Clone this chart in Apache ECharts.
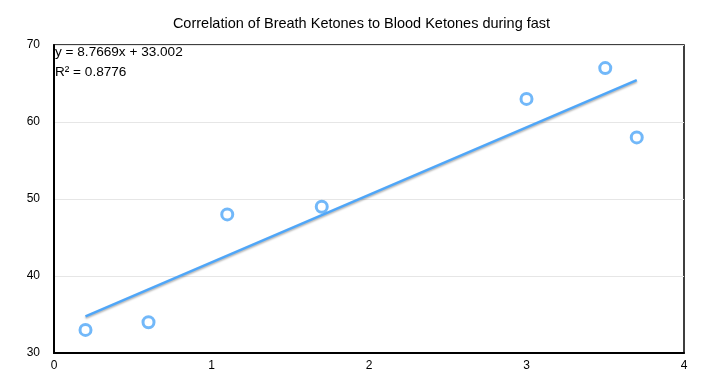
<!DOCTYPE html>
<html>
<head>
<meta charset="utf-8">
<script src="https://cdn.jsdelivr.net/npm/echarts@6/dist/echarts.min.js"></script>
<style>html,body{margin:0;padding:0;background:#fff}#c{width:723px;height:388px}</style>
</head>
<body>
<div id="c"></div>
<script>
var breathX = [0.2, 0.6, 1.1, 1.7, 3.0, 3.5, 3.7];
var bloodY = [33, 34, 48, 49, 63, 67, 58];
var trendX = [0.2, 3.7];
var trendY = [34.76, 65.44];
var xTicks = [0, 1, 2, 3, 4];
var yTicks = [30, 40, 50, 60, 70];
var titleText = 'Correlation of Breath Ketones to Blood Ketones during fast';
var eqText = 'y = 8.7669x + 33.002';
var r2Text = 'R² = 0.8776';

var blue = '#4fa6f8';
var font = 'Liberation Sans, Arial, Helvetica, sans-serif';
var chart = echarts.init(document.getElementById('c'));
chart.setOption({
  animation: false,
  backgroundColor: '#fff',
  title: {
    text: titleText, left: 'center', top: 11,
    textStyle: {fontFamily: font, fontSize: 14.5, fontWeight: 'normal', color: '#000'}
  },
  grid: {left: 54, top: 45, right: 39, bottom: 35, show: true, borderColor: '#000', borderWidth: 1.5, backgroundColor: 'transparent'},
  xAxis: {
    type: 'value', min: xTicks[0], max: xTicks[xTicks.length - 1], interval: 1,
    axisLine: {show: true, lineStyle: {color: '#000', width: 2}},
    axisTick: {show: false},
    splitLine: {show: false},
    axisLabel: {color: '#000', fontFamily: font, fontSize: 12, margin: 7}
  },
  yAxis: {
    type: 'value', min: yTicks[0], max: yTicks[yTicks.length - 1], interval: 10,
    axisLine: {show: true, lineStyle: {color: '#000', width: 2}},
    axisTick: {show: false},
    splitLine: {show: true, lineStyle: {color: '#e6e6e6', width: 1}},
    axisLabel: {color: '#000', fontFamily: font, fontSize: 12, margin: 14, verticalAlign: 'middle', padding: [0, 0, 2, 0]}
  },
  graphic: [
    {type: 'text', left: 55, top: 45, style: {text: eqText, fill: '#000', font: '13.6px ' + font}},
    {type: 'text', left: 55, top: 65, style: {text: r2Text, fill: '#000', font: '13.6px ' + font}}
  ],
  series: [
    {
      type: 'line',
      data: trendX.map(function (x, i) { return [x, trendY[i]]; }),
      symbol: 'none',
      lineStyle: {color: blue, width: 2.5, shadowColor: 'rgba(0,0,0,0.3)', shadowBlur: 2, shadowOffsetY: 1.5},
      z: 2
    },
    {
      type: 'scatter',
      data: breathX.map(function (x, i) { return [x, bloodY[i]]; }),
      symbol: 'circle', symbolSize: 11,
      itemStyle: {color: '#fff', borderColor: blue, borderWidth: 3},
      z: 3
    }
  ]
});
</script>
</body>
</html>
